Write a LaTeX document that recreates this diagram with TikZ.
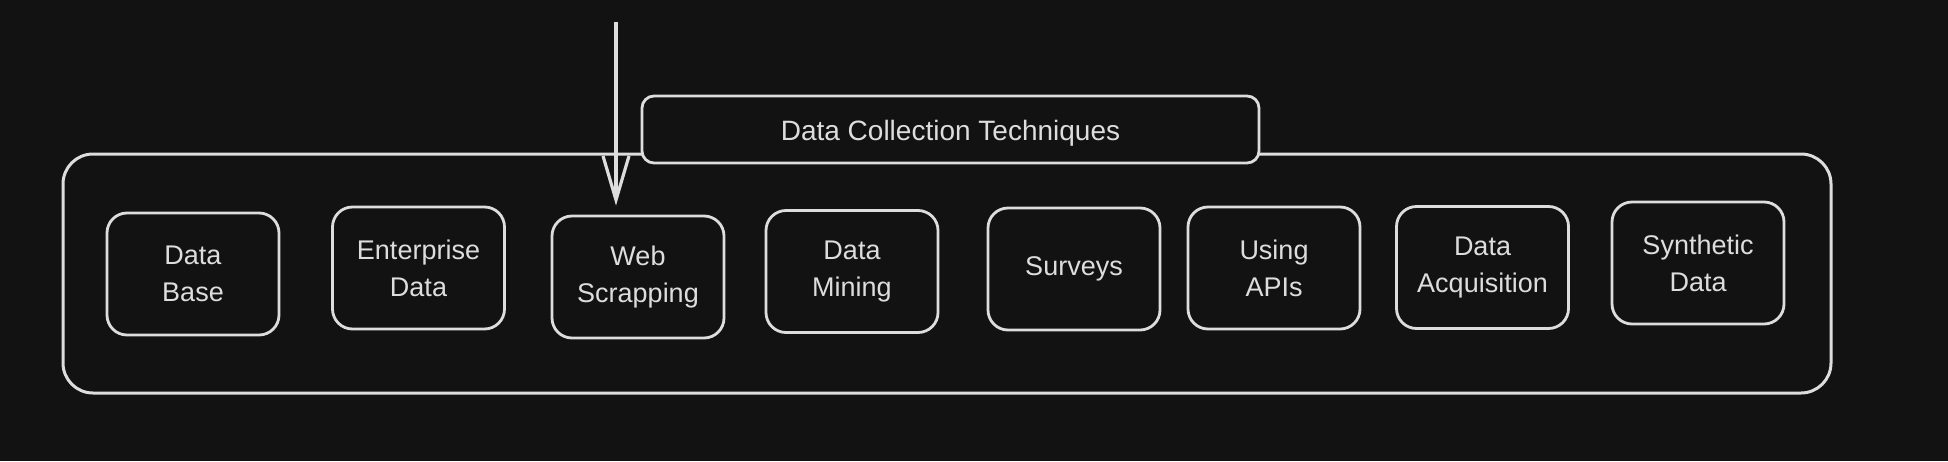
\documentclass[tikz,border=0pt]{standalone}
\usepackage{fontspec}
\setmainfont{Liberation Sans}
\usetikzlibrary{arrows.meta}
\definecolor{bg}{HTML}{121212}
\definecolor{ink}{HTML}{DDDDDD}
\tikzset{
  techbox/.style={draw=ink, line width=1.4pt, rounded corners=10pt, minimum width=86pt, minimum height=61pt,
    align=center, text=ink, fill=bg, inner sep=2pt, font=\fontsize{13.5}{18.5}\selectfont},
  container/.style={draw=ink, line width=1.5pt, rounded corners=15pt, minimum width=884pt, minimum height=119.5pt},
  titlebox/.style={draw=ink, line width=1.4pt, rounded corners=6pt, fill=bg, text=ink, minimum width=308.5pt,
    minimum height=33.5pt, text height=11pt, text depth=0pt, font=\fontsize{14}{18}\selectfont},
  arrowline/.style={draw=ink, line width=1.6pt, -{Straight Barb[length=22pt,width=13pt,line width=1.6pt]}}
}
\begin{document}
\begin{tikzpicture}[x=0.5pt,y=-0.5pt]
\fill[bg] (0,0) rectangle (1948,461);
\useasboundingbox (0,0) rectangle (1948,461);
\node[container] (group) at (947,273.5) {};
\node[titlebox] (title) at (950.5,129.5) {Data Collection Techniques};
\node[techbox] (db) at (193,274) {Data\\Base};
\node[techbox] (ent) at (418.5,268) {Enterprise\\Data};
\node[techbox] (web) at (638,277) {Web\\Scrapping};
\node[techbox] (mining) at (852,271.5) {Data\\Mining};
\node[techbox] (surveys) at (1074,269) {Surveys};
\node[techbox] (apis) at (1274,268) {Using\\APIs};
\node[techbox] (acq) at (1482.5,267.5) {Data\\Acquisition};
\node[techbox] (synth) at (1698,263) {Synthetic\\Data};
\coordinate (src) at (616,22);
\draw[arrowline, shorten >=4.5pt] (src) -- (src |- web.north);
\end{tikzpicture}
\end{document}
